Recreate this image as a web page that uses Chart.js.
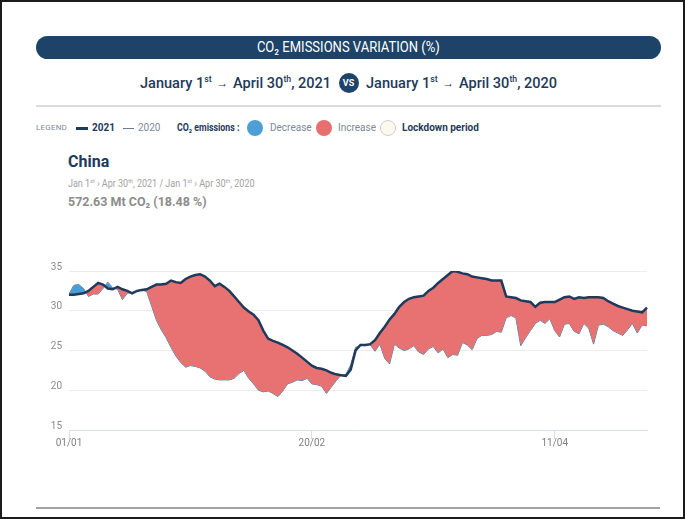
<!DOCTYPE html>
<html>
<head>
<meta charset="utf-8">
<script src="https://cdn.jsdelivr.net/npm/chart.js@4/dist/chart.umd.min.js"></script>
<style>
  html, body { margin: 0; padding: 0; background: #fff; }
  body { width: 685px; height: 519px; position: relative; overflow: hidden; font-family: Roboto, "Open Sans", sans-serif; }
  .frame { position: absolute; left: 0; top: 0; width: 685px; height: 519px; box-sizing: border-box; border: 2px solid #1b1b1b; }
  .pill { position: absolute; left: 36px; top: 36px; width: 625px; height: 23px; border-radius: 12px; background: #1d4468; color: #fff; text-align: center; font-size: 14px; line-height: 23px; }
  .pill span { display: inline-block; transform: scaleX(0.93); }
  .sub { position: absolute; left: 36px; width: 625px; top: 72px; height: 22px; text-align: center; color: #1e3a5a; font-weight: 500; font-size: 15px; line-height: 22px; white-space: nowrap; }
  .sub .t { display: inline-block; transform: scaleX(0.97); }
  .sub sup { font-size: 9px; vertical-align: 6px; line-height: 0; }
  .sub .arr { font-size: 12px; margin: 0 5px; vertical-align: 1px; }
  .vs { display: inline-block; width: 20px; height: 20px; border-radius: 50%; background: #1d4468; color: #fff; font-size: 9px; font-weight: 700; line-height: 20px; text-align: center; vertical-align: middle; margin: 0 4px; position: relative; top: -1px; }
  .rule { position: absolute; left: 36px; top: 105px; width: 625px; height: 2px; background: #dadada; }
  .legend { position: absolute; left: 36px; top: 120px; height: 16px; font-size: 10px; line-height: 16px; color: #7d8a98; white-space: nowrap; }
  .legend > * { position: absolute; top: 0; }
  .dot { width: 16px; height: 16px; border-radius: 50%; top: 0 !important; box-sizing: border-box; }
  .china { position: absolute; left: 68px; top: 152px; font-size: 16px; font-weight: 700; color: #1e3a5a; }
  .dates { position: absolute; left: 68px; top: 178px; font-size: 10px; color: #a2a2a2; white-space: nowrap; transform: scaleX(0.9); transform-origin: left center; }
  .dates sup { font-size: 6px; vertical-align: 4px; line-height: 0; }
  .val { position: absolute; left: 68px; top: 194px; font-size: 13px; font-weight: 700; color: #8c8c8c; white-space: nowrap; transform: scaleX(0.96); transform-origin: left center; }
  .bottom { position: absolute; left: 36px; top: 507px; width: 624px; height: 2px; background: #a3a3a3; }
  #wrap { position: absolute; left: 30px; top: 258px; width: 630px; height: 200px; }
</style>
</head>
<body>
<div class="frame"></div>
<div class="pill"><span>CO₂ EMISSIONS VARIATION (%)</span></div>
<div class="sub"><span class="t">January 1<sup>st</sup><span class="arr">→</span>April 30<sup>th</sup>, 2021</span><span class="vs">VS</span><span class="t">January 1<sup>st</sup><span class="arr">→</span>April 30<sup>th</sup>, 2020</span></div>
<div class="rule"></div>
<div class="legend">
  <span style="left:0; font-size:8px; letter-spacing:0.2px;">LEGEND</span>
  <span style="left:40px; top:7px; width:12px; height:3px; background:#1e3a5a;"></span>
  <span style="left:56px; font-weight:700; color:#1e3a5a;">2021</span>
  <span style="left:87px; top:7.5px; width:11px; height:1px; background:#6b7a8c;"></span>
  <span style="left:102px;">2020</span>
  <span style="left:141px; font-weight:700; color:#1e3a5a; transform:scaleX(0.88); transform-origin:left center;">CO₂ emissions :</span>
  <span class="dot" style="left:211px; background:#4d9fd5;"></span>
  <span style="left:234px;">Decrease</span>
  <span class="dot" style="left:280px; background:#e86f70;"></span>
  <span style="left:302px;">Increase</span>
  <span class="dot" style="left:344px; background:#fcf8ee; border:1px solid #cfcfcf;"></span>
  <span style="left:366px; font-weight:700; color:#1e3a5a;">Lockdown period</span>
</div>
<div class="china">China</div>
<div class="dates">Jan 1<sup>st</sup> › Apr 30<sup>th</sup>, 2021 / Jan 1<sup>st</sup> › Apr 30<sup>th</sup>, 2020</div>
<div class="val">572.63 Mt CO₂ (18.48 %)</div>
<div id="wrap"><canvas id="c" width="630" height="200"></canvas></div>
<div class="bottom"></div>
<script>
// Daily dates 01/01 .. 30/04
const dayLabels = [];
(function(){
  const months = [[1,31],[2,28],[3,31],[4,30]];
  for (const [m, n] of months) for (let d = 1; d <= n; d++)
    dayLabels.push(String(d).padStart(2,'0') + '/' + String(m).padStart(2,'0'));
})();
const shownTicks = ['01/01', '20/02', '11/04'];
const yTicks = [15, 20, 25, 30, 35];

const series2021 = [
  32.0, 32.0, 32.1, 32.2, 32.5, 33.0, 33.5, 33.3, 32.8, 32.7,
  33.0, 32.7, 32.5, 32.2, 32.5, 32.6, 32.7, 33.0, 33.3, 33.3,
  33.4, 33.8, 33.6, 33.5, 34.0, 34.3, 34.5, 34.6, 34.3, 33.8,
  33.1, 33.4, 33.0, 32.5, 31.8, 31.1, 30.4, 29.9, 29.5, 28.8,
  27.5, 26.5, 26.2, 26.0, 25.7, 25.4, 25.0, 24.6, 24.1, 23.6,
  23.1, 22.8, 22.7, 22.5, 22.2, 22.0, 21.9, 21.8, 22.6, 25.0,
  25.7, 25.7, 25.8, 26.3, 27.2, 28.0, 28.9, 29.6, 30.5, 31.1,
  31.5, 31.7, 31.8, 31.9, 32.5, 32.9, 33.5, 34.0, 34.5, 35.0,
  34.9, 34.7, 34.6, 34.3, 34.2, 34.1, 34.0, 33.8, 33.8, 33.8,
  31.8, 31.7, 31.6, 31.3, 31.2, 31.1, 30.5, 31.0, 31.1, 31.1,
  31.1, 31.4, 31.7, 31.8, 31.5, 31.7, 31.6, 31.7, 31.7, 31.7,
  31.6, 31.2, 30.9, 30.6, 30.4, 30.2, 30.0, 29.9, 29.8, 30.4
];
const series2020 = [
  32.1, 33.2, 33.3, 32.8, 31.8, 32.1, 32.1, 32.8, 33.6, 32.9,
  32.7, 31.4, 32.2, 32.3, 32.5, 32.6, 32.4, 30.6, 28.8, 27.6,
  26.6, 25.4, 24.3, 23.5, 22.9, 23.1, 23.0, 22.8, 22.4, 21.7,
  21.4, 21.3, 21.3, 21.3, 21.5, 22.1, 22.5, 21.5, 20.8, 20.0,
  19.8, 19.9, 19.6, 19.2, 19.9, 20.8, 21.0, 21.3, 21.2, 21.5,
  20.8, 20.7, 20.5, 19.6, 20.4, 21.2, 21.9, 22.0, 23.2, 25.4,
  25.6, 25.7, 25.7, 24.9, 25.8, 24.0, 23.3, 25.8, 25.3, 25.0,
  25.2, 25.6, 24.8, 24.5, 25.2, 25.5, 24.7, 25.2, 24.1, 24.5,
  24.4, 26.0, 25.7, 25.1, 26.5, 26.9, 26.9, 27.0, 27.4, 27.3,
  29.1, 29.4, 29.1, 25.6, 26.6, 27.5, 28.4, 28.8, 28.4, 29.0,
  27.5, 26.7, 28.3, 28.4, 27.4, 27.1, 28.4, 27.8, 25.8, 28.2,
  28.3, 28.0, 27.5, 27.2, 26.9, 27.6, 28.4, 27.2, 28.2, 28.1
];

const tickFont = { family: "'Liberation Sans Narrow', 'Roboto', sans-serif", size: 10 };

new Chart(document.getElementById('c'), {
  type: 'line',
  data: {
    labels: dayLabels,
    datasets: [
      {
        label: '2021',
        data: series2021,
        borderColor: '#1f3a5b',
        borderWidth: 2.5,
        pointRadius: 0,
        tension: 0,
        fill: { target: 1, above: '#e87272', below: '#4a9ed6' },
        order: 0
      },
      {
        label: '2020',
        data: series2020,
        borderColor: 'rgba(70,85,105,0.8)',
        borderWidth: 1,
        pointRadius: 0,
        tension: 0,
        fill: false,
        order: 1
      }
    ]
  },
  options: {
    animation: false,
    responsive: false,
    maintainAspectRatio: false,
    layout: { padding: { top: 11, right: 13, left: 0, bottom: 0 } },
    plugins: { legend: { display: false }, tooltip: { enabled: false } },
    scales: {
      x: {
        type: 'category',
        offset: false,
        afterFit: s => { s.height = 28; },
        border: { display: true, color: '#d6def0', width: 1 },
        grid: { display: true, drawOnChartArea: false, drawTicks: true, tickLength: 9, color: '#d6def0' },
        ticks: {
          autoSkip: false, maxRotation: 0, padding: -2, color: '#808080', font: tickFont,
          callback: function(v, i) { const l = dayLabels[i]; return shownTicks.includes(l) ? l : null; }
        }
      },
      y: {
        min: yTicks[0], max: yTicks[yTicks.length - 1],
        afterFit: s => { s.width = 39; },
        afterBuildTicks: s => { s.ticks = yTicks.map(v => ({ value: v })); },
        border: { display: false },
        grid: { drawTicks: false, color: ctx => ctx.tick && ctx.tick.value === 15 ? 'rgba(0,0,0,0)' : '#ececec' },
        ticks: { padding: 7, labelOffset: -4, color: '#8a8a8a', font: tickFont }
      }
    }
  }
});
</script>
</body>
</html>
